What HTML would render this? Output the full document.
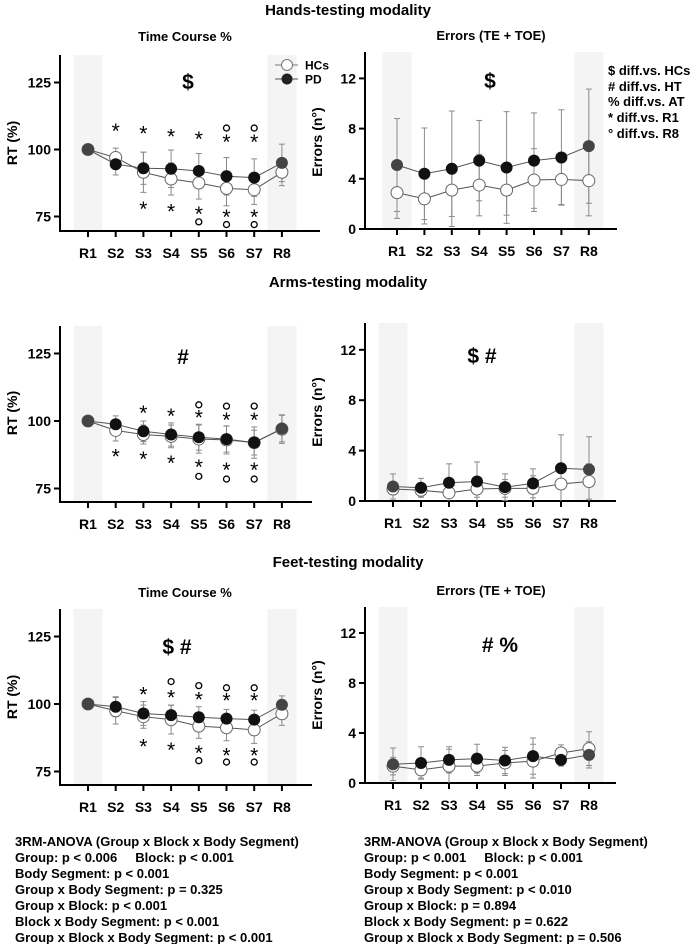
<!DOCTYPE html>
<html><head><meta charset="utf-8">
<style>
body{margin:0;background:#fff;}
svg{display:block;font-family:"Liberation Sans",Arial,sans-serif;font-weight:bold;}
</style></head>
<body>
<svg id="fig" width="696" height="944" viewBox="0 0 696 944" xmlns="http://www.w3.org/2000/svg">
<text x="348" y="15" font-size="15" text-anchor="middle">Hands-testing modality</text>
<text x="185" y="41" font-size="13" text-anchor="middle">Time Course %</text>
<text x="491" y="40" font-size="13" text-anchor="middle">Errors (TE + TOE)</text>
<text x="348" y="287" font-size="15" text-anchor="middle">Arms-testing modality</text>
<text x="348" y="567" font-size="15" text-anchor="middle">Feet-testing modality</text>
<text x="185" y="597" font-size="13" text-anchor="middle">Time Course %</text>
<text x="491" y="595" font-size="13" text-anchor="middle">Errors (TE + TOE)</text>
<g id="legend">
<line x1="275" y1="65" x2="298" y2="65" stroke="#777" stroke-width="1"/>
<circle cx="287" cy="65" r="5.5" fill="#fff" stroke="#777"/>
<text x="305" y="69.5" font-size="12">HCs</text>
<line x1="275" y1="79" x2="298" y2="79" stroke="#555" stroke-width="1"/>
<circle cx="287" cy="79" r="5.5" fill="#222"/>
<text x="305" y="83.5" font-size="12">PD</text>
</g>
<g font-size="13">
<text x="608" y="75">$ diff.vs. HCs</text>
<text x="608" y="91"># diff.vs. HT</text>
<text x="608" y="106">% diff.vs. AT</text>
<text x="608" y="122">* diff.vs. R1</text>
<text x="608" y="138">° diff.vs. R8</text>
</g>
<g font-size="13">
<text x="15" y="846">3RM-ANOVA (Group x Block x Body Segment)</text>
<text x="15" y="862" xml:space="preserve">Group: p &lt; 0.006     Block: p &lt; 0.001</text>
<text x="15" y="878">Body Segment: p &lt; 0.001</text>
<text x="15" y="894">Group x Body Segment: p = 0.325</text>
<text x="15" y="910">Group x Block: p &lt; 0.001</text>
<text x="15" y="926">Block x Body Segment: p &lt; 0.001</text>
<text x="15" y="942">Group x Block x Body Segment: p &lt; 0.001</text>
</g>
<g font-size="13">
<text x="364" y="846">3RM-ANOVA (Group x Block x Body Segment)</text>
<text x="364" y="862" xml:space="preserve">Group: p &lt; 0.001     Block: p &lt; 0.001</text>
<text x="364" y="878">Body Segment: p &lt; 0.001</text>
<text x="364" y="894">Group x Body Segment: p &lt; 0.010</text>
<text x="364" y="910">Group x Block: p = 0.894</text>
<text x="364" y="926">Block x Body Segment: p = 0.622</text>
<text x="364" y="942">Group x Block x Body Segment: p = 0.506</text>
</g>
</svg>
<script>
const categories = ['R1','S2','S3','S4','S5','S6','S7','R8'];
const rtTicks = [75,100,125];
const errTicks = [0,4,8,12];

// Hands RT
const handsRtHC = [100,97,91.5,89,87.5,85.5,85,91.5];
const handsRtPD = [100,94.5,93,92.8,92,90,89.5,95];
const handsRtSdHC = [0,3.5,7.5,6,6,6.5,5.5,5];
const handsRtSdPD = [0,4,6,7,6.5,7,7,7];
const handsRtStarAbove = [null,108,107,106,105,104,104,null];
const handsRtCircAbove = [null,null,null,null,null,108,108,null];
const handsRtStarBelow = [null,null,79,78,77,76,76,null];
const handsRtCircBelow = [null,null,null,null,73,72,72,null];
// Hands errors
const handsErrHC = [2.9,2.4,3.1,3.5,3.1,3.9,3.95,3.85];
const handsErrPD = [5.1,4.4,4.8,5.45,4.9,5.45,5.7,6.6];
const handsErrSdHC = [2.05,2.0,2.1,2.45,2.0,2.5,2.0,2.8];
const handsErrSdPD = [3.7,3.65,4.6,3.2,4.45,3.8,3.8,4.55];
// Arms RT
const armsRtHC = [100,96.5,95,94.3,93.3,93,92,97];
const armsRtPD = [100,98.8,96.2,95,94,93.3,92,97.2];
const armsRtSdHC = [0,3.9,3.5,4.2,5.2,5.2,4.6,5.3];
const armsRtSdPD = [0,3.1,3.8,4.3,4.8,4.8,5.8,4.9];
const armsRtStarAbove = [null,null,104,103,102.5,101.5,101.5,null];
const armsRtCircAbove = [null,null,null,null,106,105.5,105.5,null];
const armsRtStarBelow = [null,88,87,85.5,84,83,83,null];
const armsRtCircBelow = [null,null,null,null,79.5,78.5,78.5,null];
// Arms errors
const armsErrHC = [0.95,0.85,0.65,0.95,1.0,1.0,1.35,1.55];
const armsErrPD = [1.15,1.05,1.45,1.55,1.1,1.4,2.6,2.5];
const armsErrSdHC = [0.45,0.55,0.65,0.65,0.7,1.0,1.35,1.4];
const armsErrSdPD = [1.0,0.75,1.5,1.55,1.05,1.15,2.65,2.6];
// Feet RT
const feetRtHC = [100,97.5,95.3,94.2,91.8,91.2,90.4,96.4];
const feetRtPD = [100,99,96.5,95.9,95.1,94.6,94.2,99.7];
const feetRtSdHC = [0,4.9,4.3,5.3,4.5,4.8,5.0,4.3];
const feetRtSdPD = [0,3.7,4.4,3.7,3.9,3.4,3.5,3.3];
const feetRtStarAbove = [null,null,104.6,103.6,102.7,102.5,102.5,null];
const feetRtCircAbove = [null,null,null,108.3,106.8,106,106,null];
const feetRtStarBelow = [null,null,85.3,84,83,82,82,null];
const feetRtCircBelow = [null,null,null,null,79,78.5,78.5,null];
// Feet errors
const feetErrHC = [1.35,1.05,1.35,1.35,1.6,1.75,2.4,2.75];
const feetErrPD = [1.5,1.6,1.85,1.95,1.8,2.15,1.85,2.25];
const feetErrSdHC = [0.7,0.65,1.35,0.75,1.0,1.35,0.65,1.35];
const feetErrSdPD = [1.3,1.3,1.05,1.15,1.05,1.45,0.5,1.05];

const NS='http://www.w3.org/2000/svg';
const svg=document.getElementById('fig');
function mk(tag,attrs,parent){const e=document.createElementNS(NS,tag);for(const k in attrs)e.setAttribute(k,attrs[k]);parent.appendChild(e);return e;}

function panel(cfg){
  const g=mk('g',{},svg);
  
  
  const xs=i=>cfg.x0+i*cfg.dx;
  const ys=v=>cfg.yRef-(v-cfg.vRef)*cfg.k;
  [0,categories.length-1].forEach(i=>{
    const r=mk('rect',{x:xs(i)-14.5,y:cfg.top,width:29,height:cfg.bottom-cfg.top,fill:'#f4f4f4'},g);
    
    
  });
  const ya=mk('line',{x1:cfg.ax,y1:cfg.top,x2:cfg.ax,y2:cfg.bottom+1,stroke:'#000','stroke-width':2},g);
  
  
  const xa=mk('line',{x1:cfg.ax-1,y1:cfg.bottom,x2:cfg.xEnd,y2:cfg.bottom,stroke:'#000','stroke-width':2},g);
  
  
  cfg.ticks.forEach(t=>{
    mk('line',{x1:cfg.ax-6,y1:ys(t),x2:cfg.ax,y2:ys(t),stroke:'#000','stroke-width':2},g);
    const tl=mk('text',{x:cfg.ax-9,y:ys(t)+5,'font-size':14,'text-anchor':'end'},g);
    tl.textContent=t;
    
    
  });
  categories.forEach((c,i)=>{
    mk('line',{x1:xs(i),y1:cfg.bottom,x2:xs(i),y2:cfg.bottom+6,stroke:'#000','stroke-width':2},g);
    const tl=mk('text',{x:xs(i),y:cfg.bottom+27,'font-size':14,'text-anchor':'middle'},g);
    tl.textContent=c;
    
    
  });
  const yt=mk('text',{x:0,y:0,'font-size':14,'text-anchor':'middle',transform:`translate(${cfg.ax-43},${cfg.titleY}) rotate(-90)`},g);
  yt.textContent=cfg.yTitle;
  
  
  [[cfg.hc,cfg.sdHC],[cfg.pd,cfg.sdPD]].forEach(([m,sd])=>{
    m.forEach((v,i)=>{
      if(!sd[i])return;
      const lo=Math.max(v-sd[i],0), hi=v+sd[i];
      const wl=mk('line',{x1:xs(i),y1:ys(lo),x2:xs(i),y2:ys(hi),stroke:'#8a8a8a','stroke-width':1},g);
      
      
      mk('line',{x1:xs(i)-3,y1:ys(hi),x2:xs(i)+3,y2:ys(hi),stroke:'#8a8a8a','stroke-width':1},g);
      if(v-sd[i]>0) mk('line',{x1:xs(i)-3,y1:ys(lo),x2:xs(i)+3,y2:ys(lo),stroke:'#8a8a8a','stroke-width':1},g);
    });
  });
  [[cfg.hc,'hc'],[cfg.pd,'pd']].forEach(([m,n])=>{
    const p=mk('polyline',{points:m.map((v,i)=>xs(i)+','+ys(v)).join(' '),fill:'none',stroke:'#555','stroke-width':1},g);
    
    
  });
  cfg.hc.forEach((v,i)=>{
    const c=mk('circle',{cx:xs(i),cy:ys(v),r:6,fill:'#fff',stroke:'#666','stroke-width':1},g);
    
    
  });
  cfg.pd.forEach((v,i)=>{
    const edge=(i===0||i===categories.length-1);
    const c=mk('circle',{cx:xs(i),cy:ys(v),r:6,fill:edge?'#444':'#111'},g);
    
    
  });
  function stars(arr){ if(!arr)return; arr.forEach((v,i)=>{ if(v==null)return;
    const t=mk('text',{x:xs(i),y:ys(v)+10,'font-size':21,'font-weight':'normal','text-anchor':'middle'},g); t.textContent='*';
    
    });}
  function circs(arr){ if(!arr)return; arr.forEach((v,i)=>{ if(v==null)return;
    const c=mk('circle',{cx:xs(i),cy:ys(v),r:3,fill:'none',stroke:'#000','stroke-width':1.3},g);
    
    });}
  stars(cfg.sa);stars(cfg.sb);circs(cfg.ca);circs(cfg.cb);
  const an=mk('text',{x:cfg.annX,y:cfg.annY,'font-size':21,'text-anchor':'middle'},g);
  an.textContent=cfg.ann;
  
  
}

panel({name:'hands-rt-chart',ax:60,top:55,bottom:231,x0:88,dx:27.7,xEnd:320,vRef:100,yRef:149.5,k:2.68,ticks:rtTicks,yTitle:'RT (%)',titleY:143,
  hc:handsRtHC,pd:handsRtPD,sdHC:handsRtSdHC,sdPD:handsRtSdPD,sa:handsRtStarAbove,ca:handsRtCircAbove,sb:handsRtStarBelow,cb:handsRtCircBelow,ann:'$',annX:188,annY:89});
panel({name:'hands-errors-chart',ax:365,top:52,bottom:229,x0:397,dx:27.4,xEnd:617,vRef:0,yRef:229,k:12.55,ticks:errTicks,yTitle:'Errors (n°)',titleY:142,
  hc:handsErrHC,pd:handsErrPD,sdHC:handsErrSdHC,sdPD:handsErrSdPD,ann:'$',annX:490,annY:88});
panel({name:'arms-rt-chart',ax:60,top:326,bottom:502,x0:88,dx:27.7,xEnd:312,vRef:100,yRef:421,k:2.7,ticks:rtTicks,yTitle:'RT (%)',titleY:413,
  hc:armsRtHC,pd:armsRtPD,sdHC:armsRtSdHC,sdPD:armsRtSdPD,sa:armsRtStarAbove,ca:armsRtCircAbove,sb:armsRtStarBelow,cb:armsRtCircBelow,ann:'#',annX:183,annY:364});
panel({name:'arms-errors-chart',ax:365,top:323,bottom:501,x0:393,dx:28,xEnd:616,vRef:0,yRef:501,k:12.6,ticks:errTicks,yTitle:'Errors (n°)',titleY:412,
  hc:armsErrHC,pd:armsErrPD,sdHC:armsErrSdHC,sdPD:armsErrSdPD,ann:'$ #',annX:482,annY:363});
panel({name:'feet-rt-chart',ax:60,top:609,bottom:785,x0:88,dx:27.7,xEnd:312,vRef:100,yRef:704,k:2.7,ticks:rtTicks,yTitle:'RT (%)',titleY:697,
  hc:feetRtHC,pd:feetRtPD,sdHC:feetRtSdHC,sdPD:feetRtSdPD,sa:feetRtStarAbove,ca:feetRtCircAbove,sb:feetRtStarBelow,cb:feetRtCircBelow,ann:'$ #',annX:177,annY:654});
panel({name:'feet-errors-chart',ax:365,top:607,bottom:783,x0:393,dx:28,xEnd:616,vRef:0,yRef:783,k:12.5,ticks:errTicks,yTitle:'Errors (n°)',titleY:695,
  hc:feetErrHC,pd:feetErrPD,sdHC:feetErrSdHC,sdPD:feetErrSdPD,ann:'# %',annX:500,annY:652});

svg.appendChild(document.getElementById('legend'));
</script>
</body></html>
